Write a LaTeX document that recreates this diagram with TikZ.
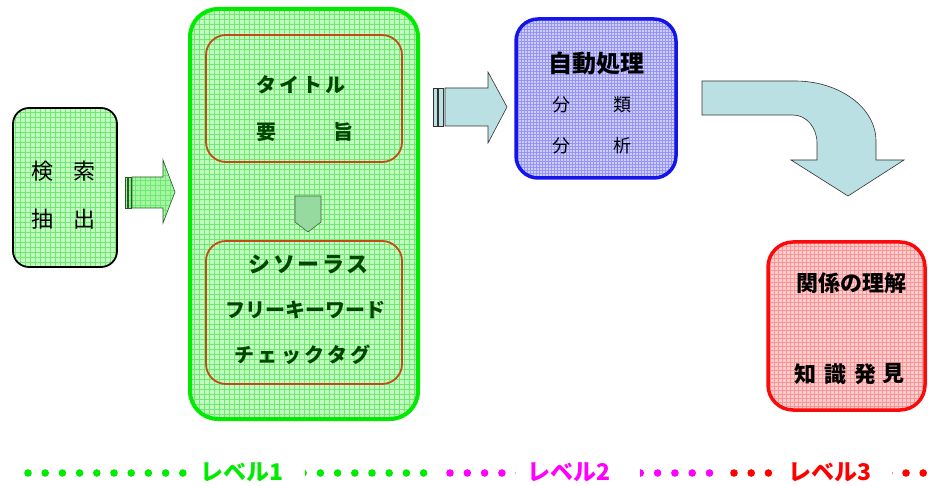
\documentclass[tikz,border=0pt]{standalone}
\usepackage{fontspec}
\newfontfamily\jp{Noto Sans CJK JP}
\definecolor{gfill}{RGB}{195,252,195}
\definecolor{ggrid}{RGB}{110,235,110}
\definecolor{afill}{RGB}{165,245,165}
\definecolor{bfill}{RGB}{205,205,255}
\definecolor{bgrid}{RGB}{150,150,240}
\definecolor{rfill}{RGB}{255,205,205}
\definecolor{rgrid}{RGB}{250,150,150}
\definecolor{brownline}{RGB}{195,75,25}
\definecolor{dgreen}{RGB}{0,70,0}
\definecolor{teal}{RGB}{187,224,227}
\definecolor{lgreen}{RGB}{0,235,0}
\definecolor{mag}{RGB}{255,0,255}
\definecolor{dnarrow}{RGB}{150,218,160}
\tikzset{
  gridbox/.style n args={3}{fill=#1, path picture={\draw[#2, line width=0.45pt, step=#3]
     (path picture bounding box.south west) grid (path picture bounding box.north east);}},
  box/.style={inner sep=0pt, outer sep=0pt},
  txt/.style={inner sep=0pt, font=\jp\fontsize{22pt}{24pt}\selectfont},
  btxt/.style={inner sep=0pt, text=dgreen, font=\jp\bfseries\fontsize{20pt}{22pt}\selectfont},
  lvl/.style={inner sep=0pt, font=\jp\bfseries\fontsize{23pt}{25pt}\selectfont},
  blockarrow/.style={line width=0.6pt, line join=miter},
}
\begin{document}
\begin{tikzpicture}[x=1pt,y=-1pt]
\useasboundingbox (0,0) rectangle (928,486);

% left box
\node[box, gridbox={gfill}{ggrid}{5pt}, draw=black, line width=1.8pt, rounded corners=16pt,
      minimum width=104pt, minimum height=159pt] (search) at (65,187.5) {};
\node[txt] (k1) at (42,171) {検};
\node[txt] (k2) at (84,171) {索};
\node[txt] (k3) at (42,219) {抽};
\node[txt] (k4) at (84,219) {出};

% arrow 1
\filldraw[blockarrow, gridbox={afill}{ggrid}{5pt}, draw={rgb,255:red,40;green,90;blue,40}]
  (125,177) rectangle (127.5,208);
\filldraw[blockarrow, gridbox={afill}{ggrid}{5pt}, draw={rgb,255:red,40;green,90;blue,40}]
  (128.5,177) rectangle (131,208);
\filldraw[blockarrow, gridbox={afill}{ggrid}{5pt}, draw={rgb,255:red,40;green,90;blue,40}]
  (132,177) -- (163,177) -- (163,160) -- (175,192) -- (163,223) -- (163,208) -- (132,208) -- cycle;

% big green box
\node[box, gridbox={gfill}{ggrid}{5pt}, draw=lgreen, line width=4pt, rounded corners=28pt,
      minimum width=228pt, minimum height=410pt] (lvlone) at (304,214) {};
\node[box, draw=brownline, line width=1.8pt, rounded corners=20pt,
      minimum width=196pt, minimum height=127pt] (inA) at (304,98.5) {};
\node[box, draw=brownline, line width=1.8pt, rounded corners=20pt,
      minimum width=196pt, minimum height=143pt] (inB) at (304,312.5) {};
\node[btxt] (t1) at (301,85) {\addfontfeature{LetterSpace=15}タイトル};
\node[btxt] (t2) at (266,132) {要};
\node[btxt] (t3) at (343,132) {旨};
\node[btxt, font=\jp\bfseries\fontsize{22pt}{24pt}\selectfont] (t4) at (308.5,264) {\addfontfeature{LetterSpace=12}シソーラス};
\node[btxt] (t5) at (305,310) {フリーキーワード};
\node[btxt] (t6) at (302.5,355) {\addfontfeature{LetterSpace=17}チェックタグ};
\filldraw[fill=dnarrow, draw={rgb,255:red,60;green,100;blue,60}, line width=0.6pt]
  (295,196) -- (321,196) -- (321,222) -- (308,232) -- (295,222) -- cycle;

% arrow 2
\filldraw[blockarrow, fill=teal, draw={rgb,255:red,50;green,50;blue,50}] (433,88) rectangle (437,126);
\filldraw[blockarrow, fill=teal, draw={rgb,255:red,50;green,50;blue,50}] (438.5,88) rectangle (443,126);
\filldraw[blockarrow, fill=teal, draw={rgb,255:red,50;green,50;blue,50}]
  (445,88) -- (488,88) -- (488,72) -- (507,107) -- (488,143) -- (488,126) -- (445,126) -- cycle;

% blue box
\node[box, gridbox={bfill}{bgrid}{3pt}, draw={rgb,255:red,20;green,20;blue,235}, line width=3.5pt, rounded corners=22pt,
      minimum width=160pt, minimum height=159pt] (auto) at (596,98.5) {};
\node[inner sep=0pt, font=\jp\bfseries\fontsize{24pt}{26pt}\selectfont] (a0) at (596,63) {自動処理};
\node[txt, font=\jp\fontsize{18pt}{20pt}\selectfont] (a1) at (561,105) {分};
\node[txt, font=\jp\fontsize{18pt}{20pt}\selectfont] (a2) at (622,105) {類};
\node[txt, font=\jp\fontsize{18pt}{20pt}\selectfont] (a3) at (561,146) {分};
\node[txt, font=\jp\fontsize{18pt}{20pt}\selectfont] (a4) at (622,146) {析};

% curved arrow
\filldraw[blockarrow, fill=teal, draw={rgb,255:red,50;green,50;blue,50}]
  (702,81) -- (795,81) arc[start angle=-90, end angle=0, x radius=81, y radius=60]
  -- (876,160) -- (904,160) -- (848,196) -- (791,160) -- (817,160) -- (817,143)
  arc[start angle=0, end angle=-90, x radius=24, y radius=28] -- (702,115) -- cycle;

% red box
\node[box, gridbox={rfill}{rgrid}{4pt}, draw={rgb,255:red,250;green,10;blue,10}, line width=3.5pt, rounded corners=25pt,
      minimum width=157pt, minimum height=168pt] (know) at (846.5,326) {};
\node[inner sep=0pt, font=\jp\bfseries\fontsize{22pt}{24pt}\selectfont] (r0) at (851,283) {関係の理解};
\node[inner sep=0pt, font=\jp\bfseries\fontsize{22pt}{24pt}\selectfont] (r1) at (805,374) {知};
\node[inner sep=0pt, font=\jp\bfseries\fontsize{22pt}{24pt}\selectfont] (r2) at (835,374) {識};
\node[inner sep=0pt, font=\jp\bfseries\fontsize{22pt}{24pt}\selectfont] (r3) at (865,374) {発};
\node[inner sep=0pt, font=\jp\bfseries\fontsize{22pt}{24pt}\selectfont] (r4) at (893,374) {見};

% level line
\foreach \k in {0,...,23} \fill[lgreen] (28+17.2*\k,473) circle (3.8pt);
\foreach \k in {0,...,15} \fill[mag] (450+17.3*\k,473) circle (3.8pt);
\foreach \k in {0,...,11} \fill[red] (734+17.2*\k,473) circle (3.8pt);
\fill[white] (190,458) rectangle (305,486);
\fill[white] (516,458) rectangle (639.5,486);
\fill[white] (778,458) rectangle (891.5,486);
\node[lvl, text=lgreen] (L1) at (242.5,472) {レベル1};
\node[lvl, text=mag] (L2) at (568.5,472) {レベル2};
\node[lvl, text=red] (L3) at (830,472) {レベル3};
\end{tikzpicture}
\end{document}
